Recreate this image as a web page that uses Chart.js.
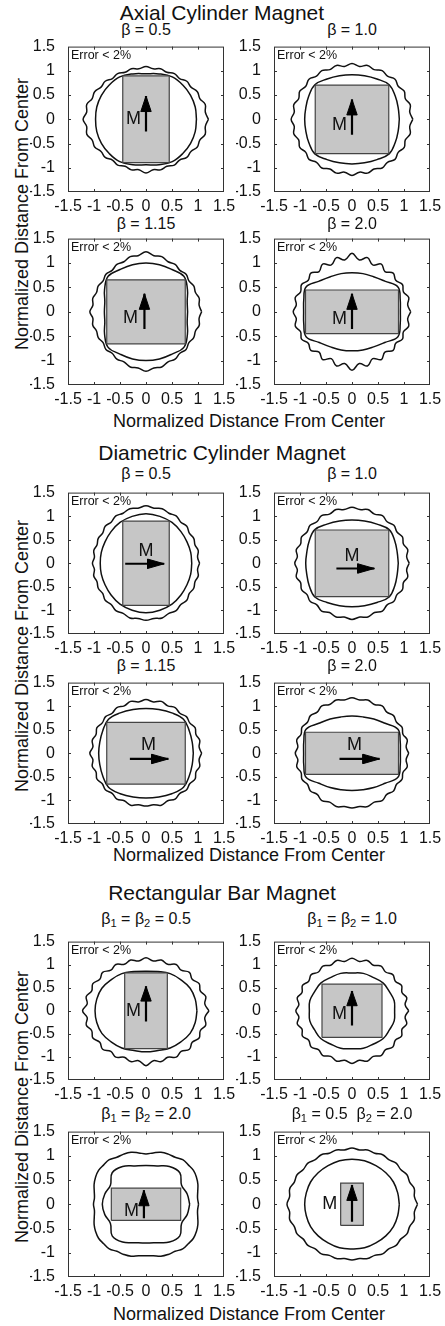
<!DOCTYPE html>
<html>
<head>
<meta charset="utf-8">
<script src="https://cdn.jsdelivr.net/npm/chart.js@4/dist/chart.umd.min.js"></script>
<style>
body { margin: 0; background: #fff; font-family: 'Liberation Sans', Arial, Helvetica, sans-serif; color: #111; }
#page { position: relative; width: 445px; height: 1326px; overflow: hidden; }
.t { position: absolute; white-space: nowrap; transform: translate(-50%, -50%); line-height: 1; }
.g { font-size: 21px; }
.s { font-size: 16px; }
.ax { font-size: 18px; }
.ay { font-size: 18px; transform: translate(-50%, -50%) rotate(-90deg); }
sub { font-size: 0.7em; vertical-align: -0.3em; line-height: 0; }
canvas { position: absolute; }
</style>
</head>
<body>
<div id="page"></div>
<script>
// axis ticks shared by every panel
const tickVals = [-1.5, -1, -0.5, 0, 0.5, 1, 1.5];
const tickLabels = ['-1.5', '-1', '-0.5', '0', '0.5', '1', '1.5'];

// contour radii are read at these angles (degrees)
const anglesOuter = [0, 7.5, 15, 22.5, 30, 37.5, 45, 52.5, 60, 67.5, 75, 82.5, 90, 97.5, 105, 112.5, 120, 127.5,
    135, 142.5, 150, 157.5, 165, 172.5, 180, 187.5, 195, 202.5, 210, 217.5, 225, 232.5, 240, 247.5, 255, 262.5,
    270, 277.5, 285, 292.5, 300, 307.5, 315, 322.5, 330, 337.5, 345, 352.5];
const anglesInner = [0, 15, 30, 45, 60, 75, 90, 105, 120, 135, 150, 165, 180, 195, 210, 225, 240, 255, 270, 285, 300, 315, 330, 345];

const groupTitles = ['Axial Cylinder Magnet', 'Diametric Cylinder Magnet', 'Rectangular Bar Magnet'];
const panelTitles = [
    'β = 0.5', 'β = 1.0', 'β = 1.15', 'β = 2.0',
    'β = 0.5', 'β = 1.0', 'β = 1.15', 'β = 2.0',
    'β<sub>1</sub> = β<sub>2</sub> = 0.5', 'β<sub>1</sub> = β<sub>2</sub> = 1.0',
    'β<sub>1</sub> = β<sub>2</sub> = 2.0', 'β<sub>1</sub> = 0.5&nbsp;&nbsp;β<sub>2</sub> = 2.0'
];

// magnet cross-section half sizes (normalized)
const magnetHalfW = [0.447, 0.707, 0.755, 0.894, 0.447, 0.707, 0.755, 0.894, 0.41, 0.577, 0.667, 0.218];
const magnetHalfH = [0.894, 0.707, 0.656, 0.447, 0.894, 0.707, 0.656, 0.447, 0.82, 0.577, 0.333, 0.436];

// magnetization arrow (tail, tip) and the "M" label
const arrowTail = [[0, -0.25], [0, -0.32], [-0.03, -0.35], [0, -0.35],
    [-0.40, -0.01], [-0.30, -0.11], [-0.31, -0.12], [-0.24, -0.12],
    [0, -0.23], [0, -0.32], [-0.04, -0.29], [0, -0.36]];
const arrowTip = [[0, 0.48], [0, 0.41], [-0.03, 0.37], [0, 0.37],
    [0.35, -0.01], [0.43, -0.11], [0.43, -0.12], [0.53, -0.12],
    [0, 0.53], [0, 0.43], [-0.04, 0.29], [0, 0.40]];
const labelM = [[-0.24, 0.0], [-0.24, -0.12], [-0.30, -0.12], [-0.24, -0.15],
    [0.0, 0.27], [0.0, 0.15], [0.05, 0.17], [0.05, 0.17],
    [-0.24, 0.0], [-0.24, -0.07], [-0.28, -0.13], [-0.43, 0.0]];

// outer (error < 2%) contour radii
const axialOuter = [
    [1.20, 1.15, 1.18, 1.12, 1.14, 1.09, 1.11, 1.06, 1.09, 1.05, 1.08, 1.05, 1.09,
     1.05, 1.08, 1.05, 1.09, 1.06, 1.11, 1.09, 1.14, 1.12, 1.18, 1.15, 1.21,
     1.15, 1.18, 1.12, 1.14, 1.09, 1.11, 1.06, 1.09, 1.05, 1.08, 1.05, 1.11,
     1.05, 1.08, 1.05, 1.09, 1.06, 1.11, 1.09, 1.14, 1.12, 1.18, 1.15],
    [1.17, 1.12, 1.16, 1.11, 1.16, 1.12, 1.17, 1.12, 1.16, 1.11, 1.15, 1.10, 1.15,
     1.10, 1.15, 1.11, 1.16, 1.12, 1.17, 1.12, 1.16, 1.11, 1.16, 1.12, 1.17,
     1.12, 1.16, 1.11, 1.16, 1.12, 1.17, 1.12, 1.16, 1.11, 1.15, 1.10, 1.16,
     1.10, 1.15, 1.11, 1.16, 1.12, 1.17, 1.12, 1.16, 1.11, 1.16, 1.12],
    [1.07, 1.03, 1.06, 1.03, 1.06, 1.04, 1.09, 1.07, 1.12, 1.11, 1.17, 1.16, 1.23,
     1.16, 1.17, 1.11, 1.12, 1.07, 1.09, 1.04, 1.06, 1.03, 1.06, 1.03, 1.08,
     1.03, 1.06, 1.03, 1.06, 1.04, 1.09, 1.07, 1.12, 1.11, 1.17, 1.16, 1.22,
     1.16, 1.17, 1.11, 1.12, 1.07, 1.09, 1.04, 1.06, 1.03, 1.06, 1.03],
    [1.13, 1.08, 1.13, 1.07, 1.12, 1.06, 1.12, 1.04, 1.13, 1.04, 1.15, 1.07, 1.20,
     1.07, 1.15, 1.04, 1.13, 1.04, 1.12, 1.06, 1.12, 1.07, 1.13, 1.08, 1.13,
     1.08, 1.13, 1.07, 1.12, 1.06, 1.12, 1.04, 1.13, 1.04, 1.15, 1.07, 1.20,
     1.07, 1.15, 1.04, 1.13, 1.04, 1.12, 1.06, 1.12, 1.07, 1.13, 1.08]
];
const diametricOuter = [
    [1.03, 1.00, 1.04, 1.02, 1.06, 1.05, 1.11, 1.10, 1.16, 1.15, 1.20, 1.18, 1.22,
     1.18, 1.20, 1.15, 1.16, 1.10, 1.11, 1.05, 1.06, 1.02, 1.04, 1.00, 1.03,
     1.00, 1.04, 1.02, 1.06, 1.05, 1.11, 1.10, 1.16, 1.15, 1.20, 1.18, 1.21,
     1.18, 1.20, 1.15, 1.16, 1.10, 1.11, 1.05, 1.06, 1.02, 1.04, 1.00],
    [1.10, 1.06, 1.11, 1.07, 1.12, 1.09, 1.14, 1.11, 1.17, 1.13, 1.18, 1.15, 1.19,
     1.15, 1.18, 1.13, 1.17, 1.11, 1.14, 1.09, 1.12, 1.07, 1.11, 1.06, 1.10,
     1.06, 1.11, 1.07, 1.12, 1.09, 1.14, 1.11, 1.17, 1.13, 1.18, 1.15, 1.19,
     1.15, 1.18, 1.13, 1.17, 1.11, 1.14, 1.09, 1.12, 1.07, 1.11, 1.06],
    [1.07, 1.03, 1.07, 1.04, 1.09, 1.06, 1.10, 1.07, 1.12, 1.09, 1.14, 1.10, 1.14,
     1.10, 1.14, 1.09, 1.12, 1.07, 1.10, 1.06, 1.09, 1.04, 1.07, 1.03, 1.08,
     1.03, 1.07, 1.04, 1.09, 1.06, 1.10, 1.07, 1.12, 1.09, 1.14, 1.10, 1.12,
     1.10, 1.14, 1.09, 1.12, 1.07, 1.10, 1.06, 1.09, 1.04, 1.07, 1.03],
    [1.09, 1.05, 1.10, 1.06, 1.11, 1.08, 1.13, 1.10, 1.16, 1.12, 1.17, 1.14, 1.18,
     1.14, 1.17, 1.12, 1.16, 1.10, 1.13, 1.08, 1.11, 1.06, 1.10, 1.05, 1.09,
     1.05, 1.10, 1.06, 1.11, 1.08, 1.13, 1.10, 1.16, 1.12, 1.17, 1.14, 1.16,
     1.14, 1.17, 1.12, 1.16, 1.10, 1.13, 1.08, 1.11, 1.06, 1.10, 1.05]
];
const barOuter = [
    [1.21, 1.14, 1.19, 1.13, 1.18, 1.12, 1.18, 1.11, 1.16, 1.09, 1.14, 1.09, 1.15,
     1.09, 1.14, 1.09, 1.16, 1.11, 1.18, 1.12, 1.18, 1.13, 1.19, 1.14, 1.22,
     1.14, 1.19, 1.13, 1.18, 1.12, 1.18, 1.11, 1.16, 1.09, 1.14, 1.09, 1.19,
     1.09, 1.14, 1.09, 1.16, 1.11, 1.18, 1.12, 1.18, 1.13, 1.19, 1.14],
    [1.09, 1.03, 1.09, 1.04, 1.10, 1.05, 1.11, 1.06, 1.12, 1.07, 1.13, 1.08, 1.14,
     1.08, 1.13, 1.07, 1.12, 1.06, 1.11, 1.05, 1.10, 1.04, 1.09, 1.03, 1.08,
     1.03, 1.09, 1.04, 1.10, 1.05, 1.11, 1.06, 1.12, 1.07, 1.13, 1.08, 1.14,
     1.08, 1.13, 1.07, 1.12, 1.06, 1.11, 1.05, 1.10, 1.04, 1.09, 1.03],
    [1.01, 1.00, 1.03, 1.08, 1.12, 1.15, 1.15, 1.16, 1.12, 1.12, 1.11, 1.07, 1.04,
     1.07, 1.11, 1.12, 1.12, 1.16, 1.15, 1.15, 1.12, 1.08, 1.03, 1.00, 1.01,
     1.00, 1.03, 1.08, 1.12, 1.15, 1.15, 1.16, 1.12, 1.12, 1.11, 1.07, 1.06,
     1.07, 1.11, 1.12, 1.12, 1.16, 1.15, 1.15, 1.12, 1.08, 1.03, 1.00],
    [1.26, 1.21, 1.24, 1.20, 1.22, 1.18, 1.20, 1.16, 1.18, 1.14, 1.16, 1.13, 1.16,
     1.13, 1.16, 1.14, 1.18, 1.16, 1.20, 1.18, 1.22, 1.20, 1.24, 1.21, 1.25,
     1.21, 1.24, 1.20, 1.22, 1.18, 1.20, 1.16, 1.18, 1.14, 1.16, 1.13, 1.15,
     1.13, 1.16, 1.14, 1.18, 1.16, 1.20, 1.18, 1.22, 1.20, 1.24, 1.21]
];

// inner contour radii
const axialInner = [
    [0.97, 0.98, 0.99, 1.00, 1.01, 0.97, 0.94, 0.97, 1.01, 1.00, 0.99, 0.98, 0.97, 0.98, 0.99, 1.00, 1.01, 0.97, 0.94, 0.97, 1.01, 1.00, 0.99, 0.98],
    [0.91, 0.92, 0.96, 1.01, 0.96, 0.93, 0.92, 0.93, 0.96, 1.01, 0.96, 0.92, 0.91, 0.92, 0.96, 1.01, 0.96, 0.93, 0.92, 0.93, 0.96, 1.01, 0.96, 0.92],
    [0.80, 0.82, 0.92, 1.03, 1.00, 1.00, 1.00, 1.00, 1.00, 1.03, 0.92, 0.82, 0.80, 0.82, 0.92, 1.03, 1.00, 1.00, 1.00, 1.00, 1.00, 1.03, 0.92, 0.82],
    [0.93, 0.96, 1.02, 0.89, 0.83, 0.81, 0.80, 0.81, 0.83, 0.89, 1.02, 0.96, 0.93, 0.96, 1.02, 0.89, 0.83, 0.81, 0.80, 0.81, 0.83, 0.89, 1.02, 0.96]
];
const diametricInner = [
    [0.88, 0.89, 0.91, 0.95, 1.00, 1.03, 1.05, 1.03, 1.00, 0.95, 0.91, 0.89, 0.88, 0.89, 0.91, 0.95, 1.00, 1.03, 1.05, 1.03, 1.00, 0.95, 0.91, 0.89],
    [0.89, 0.90, 0.95, 1.01, 0.96, 0.93, 0.92, 0.93, 0.96, 1.01, 0.95, 0.90, 0.89, 0.90, 0.95, 1.01, 0.96, 0.93, 0.92, 0.93, 0.96, 1.01, 0.95, 0.90],
    [0.91, 0.92, 0.96, 1.02, 0.99, 0.96, 0.95, 0.96, 0.99, 1.02, 0.96, 0.92, 0.91, 0.92, 0.96, 1.02, 0.99, 0.96, 0.95, 0.96, 0.99, 1.02, 0.96, 0.92],
    [0.93, 0.96, 1.02, 0.90, 0.84, 0.80, 0.79, 0.80, 0.84, 0.90, 1.02, 0.96, 0.93, 0.96, 1.02, 0.90, 0.84, 0.80, 0.79, 0.80, 0.84, 0.90, 1.02, 0.96]
];
const barInner = [
    [0.98, 0.98, 0.98, 0.95, 0.93, 0.88, 0.86, 0.88, 0.93, 0.95, 0.98, 0.98, 0.98, 0.98, 0.98, 0.95, 0.93, 0.89, 0.89, 0.89, 0.93, 0.95, 0.98, 0.98],
    [0.82, 0.84, 0.83, 0.85, 0.83, 0.84, 0.82, 0.84, 0.83, 0.85, 0.83, 0.84, 0.82, 0.84, 0.83, 0.85, 0.83, 0.84, 0.82, 0.84, 0.83, 0.85, 0.83, 0.84],
    [0.84, 0.82, 0.79, 0.92, 0.90, 0.82, 0.80, 0.82, 0.90, 0.92, 0.79, 0.82, 0.84, 0.82, 0.79, 0.92, 0.90, 0.82, 0.80, 0.82, 0.90, 0.92, 0.79, 0.82],
    [0.91, 0.91, 0.92, 0.92, 0.92, 0.93, 0.93, 0.93, 0.92, 0.92, 0.92, 0.91, 0.91, 0.91, 0.92, 0.92, 0.92, 0.93, 0.92, 0.93, 0.92, 0.92, 0.92, 0.91]
];

const outerR = axialOuter.concat(diametricOuter, barOuter);
const innerR = axialInner.concat(diametricInner, barInner);

// page layout (pixels)
const colLeft = [68, 274];
const boxW = 156;
const rowTop = [42, 234, 488, 678, 937, 1127];
const rowBottom = [192, 385, 634, 824, 1080, 1277];
const groupTitleY = [12, 452, 892];
const panelTitleY = [30, 224, 474, 666, 919, 1114];
const xTitleY = [421, 855, 1314];
const yTitleY = [214, 656, 1107];
const PAD_L = 38, PAD_T = 10, PAD_R = 16, PAD_B = 22;

Chart.defaults.font.family = "'Liberation Sans', Arial, Helvetica, sans-serif";
Chart.defaults.color = '#111';

const page = document.getElementById('page');
function addText(html, cls, x, y) {
    const d = document.createElement('div');
    d.className = 't ' + cls;
    d.innerHTML = html;
    d.style.left = x + 'px';
    d.style.top = y + 'px';
    page.appendChild(d);
}

function ring(radii, angles) {
    const pts = radii.map((r, i) => {
        const a = angles[i] * Math.PI / 180;
        return { x: r * Math.cos(a), y: r * Math.sin(a) };
    });
    pts.push(pts[0]);
    return pts;
}

function arrowHead(tail, tip) {
    const dx = tip[0] - tail[0], dy = tip[1] - tail[1];
    const len = Math.hypot(dx, dy), ux = dx / len, uy = dy / len;
    const hl = 0.32, hw = 0.1;
    const bx = tip[0] - ux * hl, by = tip[1] - uy * hl;
    return [
        { x: tip[0], y: tip[1] },
        { x: bx - uy * hw, y: by + ux * hw },
        { x: bx + uy * hw, y: by - ux * hw },
        { x: tip[0], y: tip[1] }
    ];
}

// box, inward ticks, "Error < 2%" and the M label
const frame = {
    id: 'frame',
    afterDatasetsDraw(chart, args, opts) {
        const { ctx, chartArea: a, scales: { x, y } } = chart;
        ctx.save();
        ctx.strokeStyle = '#333';
        ctx.lineWidth = 1;
        ctx.strokeRect(a.left + 0.5, a.top + 0.5, a.right - a.left - 1, a.bottom - a.top - 1);
        ctx.beginPath();
        tickVals.slice(1, -1).forEach(v => {
            const px = Math.round(x.getPixelForValue(v)) + 0.5;
            const py = Math.round(y.getPixelForValue(v)) + 0.5;
            ctx.moveTo(px, a.bottom); ctx.lineTo(px, a.bottom - 3);
            ctx.moveTo(px, a.top); ctx.lineTo(px, a.top + 3);
            ctx.moveTo(a.left, py); ctx.lineTo(a.left + 3, py);
            ctx.moveTo(a.right, py); ctx.lineTo(a.right - 3, py);
        });
        ctx.stroke();
        ctx.fillStyle = '#111';
        ctx.font = "12.5px 'Liberation Sans', Arial, sans-serif";
        ctx.textAlign = 'left';
        ctx.textBaseline = 'top';
        ctx.fillText('Error < 2%', a.left + 3, a.top + 3);
        ctx.font = "18px 'Liberation Sans', Arial, sans-serif";
        ctx.textAlign = 'center';
        ctx.textBaseline = 'middle';
        ctx.fillText('M', x.getPixelForValue(opts.m[0]), y.getPixelForValue(opts.m[1]));
        ctx.restore();
    }
};

const axisOpts = (fit, pad) => ({
    type: 'linear', min: -1.5, max: 1.5,
    grid: { display: false }, border: { display: false },
    afterBuildTicks: s => { s.ticks = tickVals.map(v => ({ value: v })); },
    afterFit: fit,
    ticks: {
        autoSkip: false, maxRotation: 0, minRotation: 0, padding: pad,
        font: { size: 16 }, color: '#111',
        callback: (v, i) => tickLabels[i]
    }
});

groupTitles.forEach((t, g) => {
    addText(t, 'g', 222, groupTitleY[g]);
    addText('Normalized Distance From Center', 'ax', 249, xTitleY[g]);
    addText('Normalized Distance From Center', 'ay', 22, yTitleY[g]);
});

for (let p = 0; p < 12; p++) {
    const g = Math.floor(p / 4), c = p % 2, row = g * 2 + Math.floor((p % 4) / 2);
    const left = colLeft[c], top = rowTop[row], h = rowBottom[row] - rowTop[row];
    addText(panelTitles[p], 's', left + boxW / 2, panelTitleY[row]);

    const W = boxW + PAD_L + PAD_R, H = h + PAD_T + PAD_B;
    const cv = document.createElement('canvas');
    cv.width = W; cv.height = H;
    cv.style.left = (left - PAD_L) + 'px';
    cv.style.top = (top - PAD_T) + 'px';
    cv.style.width = W + 'px';
    cv.style.height = H + 'px';
    page.appendChild(cv);

    const w = magnetHalfW[p], hh = magnetHalfH[p];
    new Chart(cv, {
        type: 'scatter',
        data: {
            datasets: [
                { data: arrowHead(arrowTail[p], arrowTip[p]), showLine: true, tension: 0, fill: 'shape',
                  backgroundColor: '#000', borderColor: '#000', borderWidth: 1, pointRadius: 0 },
                { data: [{ x: arrowTail[p][0], y: arrowTail[p][1] }, { x: arrowTip[p][0], y: arrowTip[p][1] }],
                  showLine: true, borderColor: '#000', borderWidth: 2.2, pointRadius: 0 },
                { data: [{ x: -w, y: -hh }, { x: w, y: -hh }, { x: w, y: hh }, { x: -w, y: hh }, { x: -w, y: -hh }],
                  showLine: true, tension: 0, fill: 'shape', backgroundColor: '#c6c6c6',
                  borderColor: '#444', borderWidth: 1.2, pointRadius: 0 },
                { data: ring(innerR[p], anglesInner), showLine: true, tension: 0.4,
                  borderColor: '#111', borderWidth: 1.5, pointRadius: 0 },
                { data: ring(outerR[p], anglesOuter), showLine: true, tension: 0.4,
                  borderColor: '#111', borderWidth: 1.5, pointRadius: 0 }
            ]
        },
        options: {
            responsive: false, animation: false, devicePixelRatio: 1, events: [],
            layout: { padding: { left: 0, top: PAD_T, right: PAD_R, bottom: 0 } },
            plugins: { legend: { display: false }, tooltip: { enabled: false }, frame: { m: labelM[p] } },
            scales: {
                x: axisOpts(s => { s.height = PAD_B; }, -3),
                y: axisOpts(s => { s.width = PAD_L; }, 5)
            }
        },
        plugins: [frame]
    });
}
</script>
</body>
</html>
